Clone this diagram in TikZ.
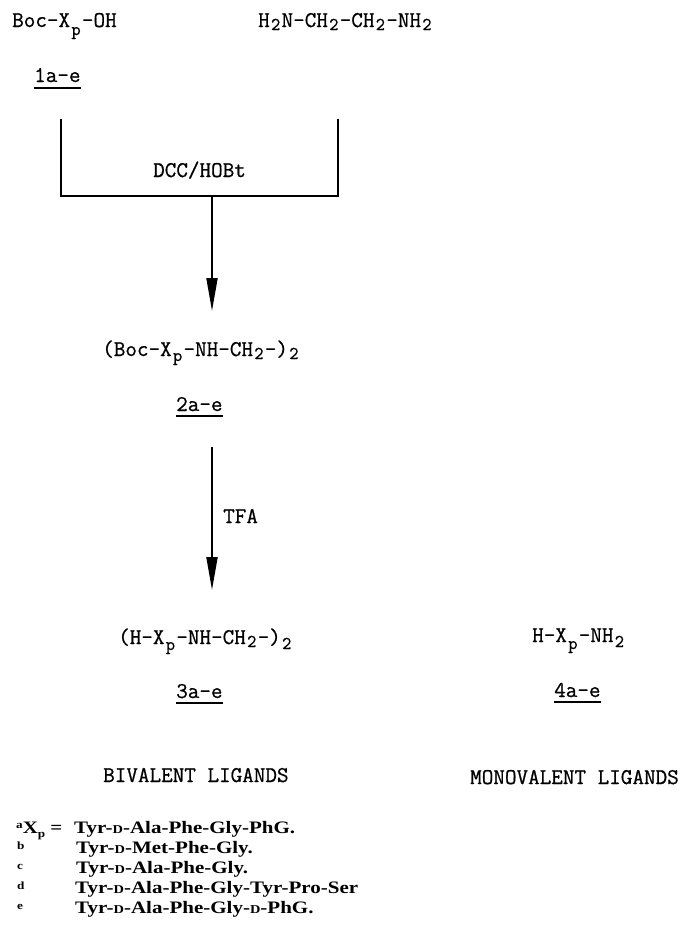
\documentclass[tikz,border=0pt]{standalone}
\usepackage{fontspec}
\usepackage{graphicx}
\setmainfont{Liberation Serif}
\setmonofont[FakeBold=0.7]{Latin Modern Mono}
\newfontfamily\fnfont[FakeStretch=1.2]{Liberation Serif}
\usetikzlibrary{arrows.meta}
\newcommand{\tw}{\fontsize{22.5}{24}\selectfont\ttfamily}
\newcommand{\lo}[2][3pt]{\makebox[11.8pt][c]{\raisebox{-#1}{\fontsize{18}{18}\selectfont #2}}}
\newcommand{\smD}{{\fontsize{12}{12}\selectfont D}}
\newcommand{\fnlab}[1]{{\fontsize{11}{11}\selectfont #1}}
\tikzset{
 tt/.style={font=\tw, inner sep=0pt, anchor=base west},
 fn/.style={font=\fnfont\bfseries\fontsize{17.5}{19}\selectfont, inner sep=0pt, anchor=base west},
 ln/.style={line width=2pt},
 arr/.style={line width=2pt, -{Triangle[length=33pt,width=11pt]}},
 ul/.style={line width=1.2pt}
}
\begin{document}
\begin{tikzpicture}[x=1pt,y=-1pt]
\useasboundingbox (0,0) rectangle (685,937);
% reactants
\node[tt] (boc) at (12,27) {Boc-X\lo[8pt]{p}-OH};
\node[tt] (eda) at (258,27) {H\lo{2}N-CH\lo{2}-CH\lo{2}-NH\lo{2}};
\node[tt] (c1) at (34,82) {1a-e};
\draw[ul] ([yshift=-6pt]c1.base west) -- ([yshift=-6pt]c1.base east);
% bracket
\coordinate (bl) at (61,119);
\coordinate (blc) at (61,196);
\coordinate (brc) at (338,196);
\coordinate (br) at (338,119);
\coordinate (jn) at (212,196);
\coordinate (t1) at (212,311);
\draw[ln] (bl) -- (blc) -- (brc) -- (br);
\draw[arr] (jn) -- (t1);
\node[tt] (dcc) at (153,177) {DCC/HOBt};
% product 2
\node[tt] (bocdi) at (102,356) {(Boc-X\lo[5pt]{p}-NH-CH\lo{2}-)\lo{2}};
\node[tt] (c2) at (176,411) {2a-e};
\draw[ul] ([yshift=-5pt]c2.base west) -- ([yshift=-5pt]c2.base east);
% TFA arrow
\coordinate (s2) at (212,447);
\coordinate (t2) at (212,590);
\draw[arr] (s2) -- (t2);
\node[tt] (tfa) at (223,523) {TFA};
% product 3 and 4
\node[tt] (hdi) at (118,644) {(H-X\lo[6pt]{p}-NH-CH\lo{2}-)\lo[5pt]{2}};
\node[tt] (c3) at (176,698) {3a-e};
\draw[ul] ([yshift=-5pt]c3.base west) -- ([yshift=-5pt]c3.base east);
\node[tt] (mono) at (532,642) {H-X\lo[7pt]{p}-NH\lo[5pt]{2}};
\node[tt] (c4) at (554,697) {4a-e};
\draw[ul] ([yshift=-5pt]c4.base west) -- ([yshift=-5pt]c4.base east);
\node[tt] (biv) at (103,782) {BIVALENT LIGANDS};
\node[tt] (monov) at (470,784) {MONOVALENT LIGANDS};
% footnotes
\node[fn] (fa) at (16,833) {\raisebox{5pt}{\fnlab{a}}X\raisebox{-4pt}{\fnlab{p}}\hspace{5pt}=};
\node[fn] (ta) at (74,833) {Tyr-\smD-Ala-Phe-Gly-PhG.};
\node[fn] (fb) at (17,849) {\fnlab{b}};
\node[fn] (tb) at (76,853) {Tyr-\smD-Met-Phe-Gly.};
\node[fn] (fc) at (17,869) {\fnlab{c}};
\node[fn] (tc) at (76,873) {Tyr-\smD-Ala-Phe-Gly.};
\node[fn] (fd) at (17,889) {\fnlab{d}};
\node[fn] (td) at (75,893) {Tyr-\smD-Ala-Phe-Gly-Tyr-Pro-Ser};
\node[fn] (fe) at (17,909) {\fnlab{e}};
\node[fn] (te) at (75,913) {Tyr-\smD-Ala-Phe-Gly-\smD-PhG.};
\end{tikzpicture}
\end{document}
